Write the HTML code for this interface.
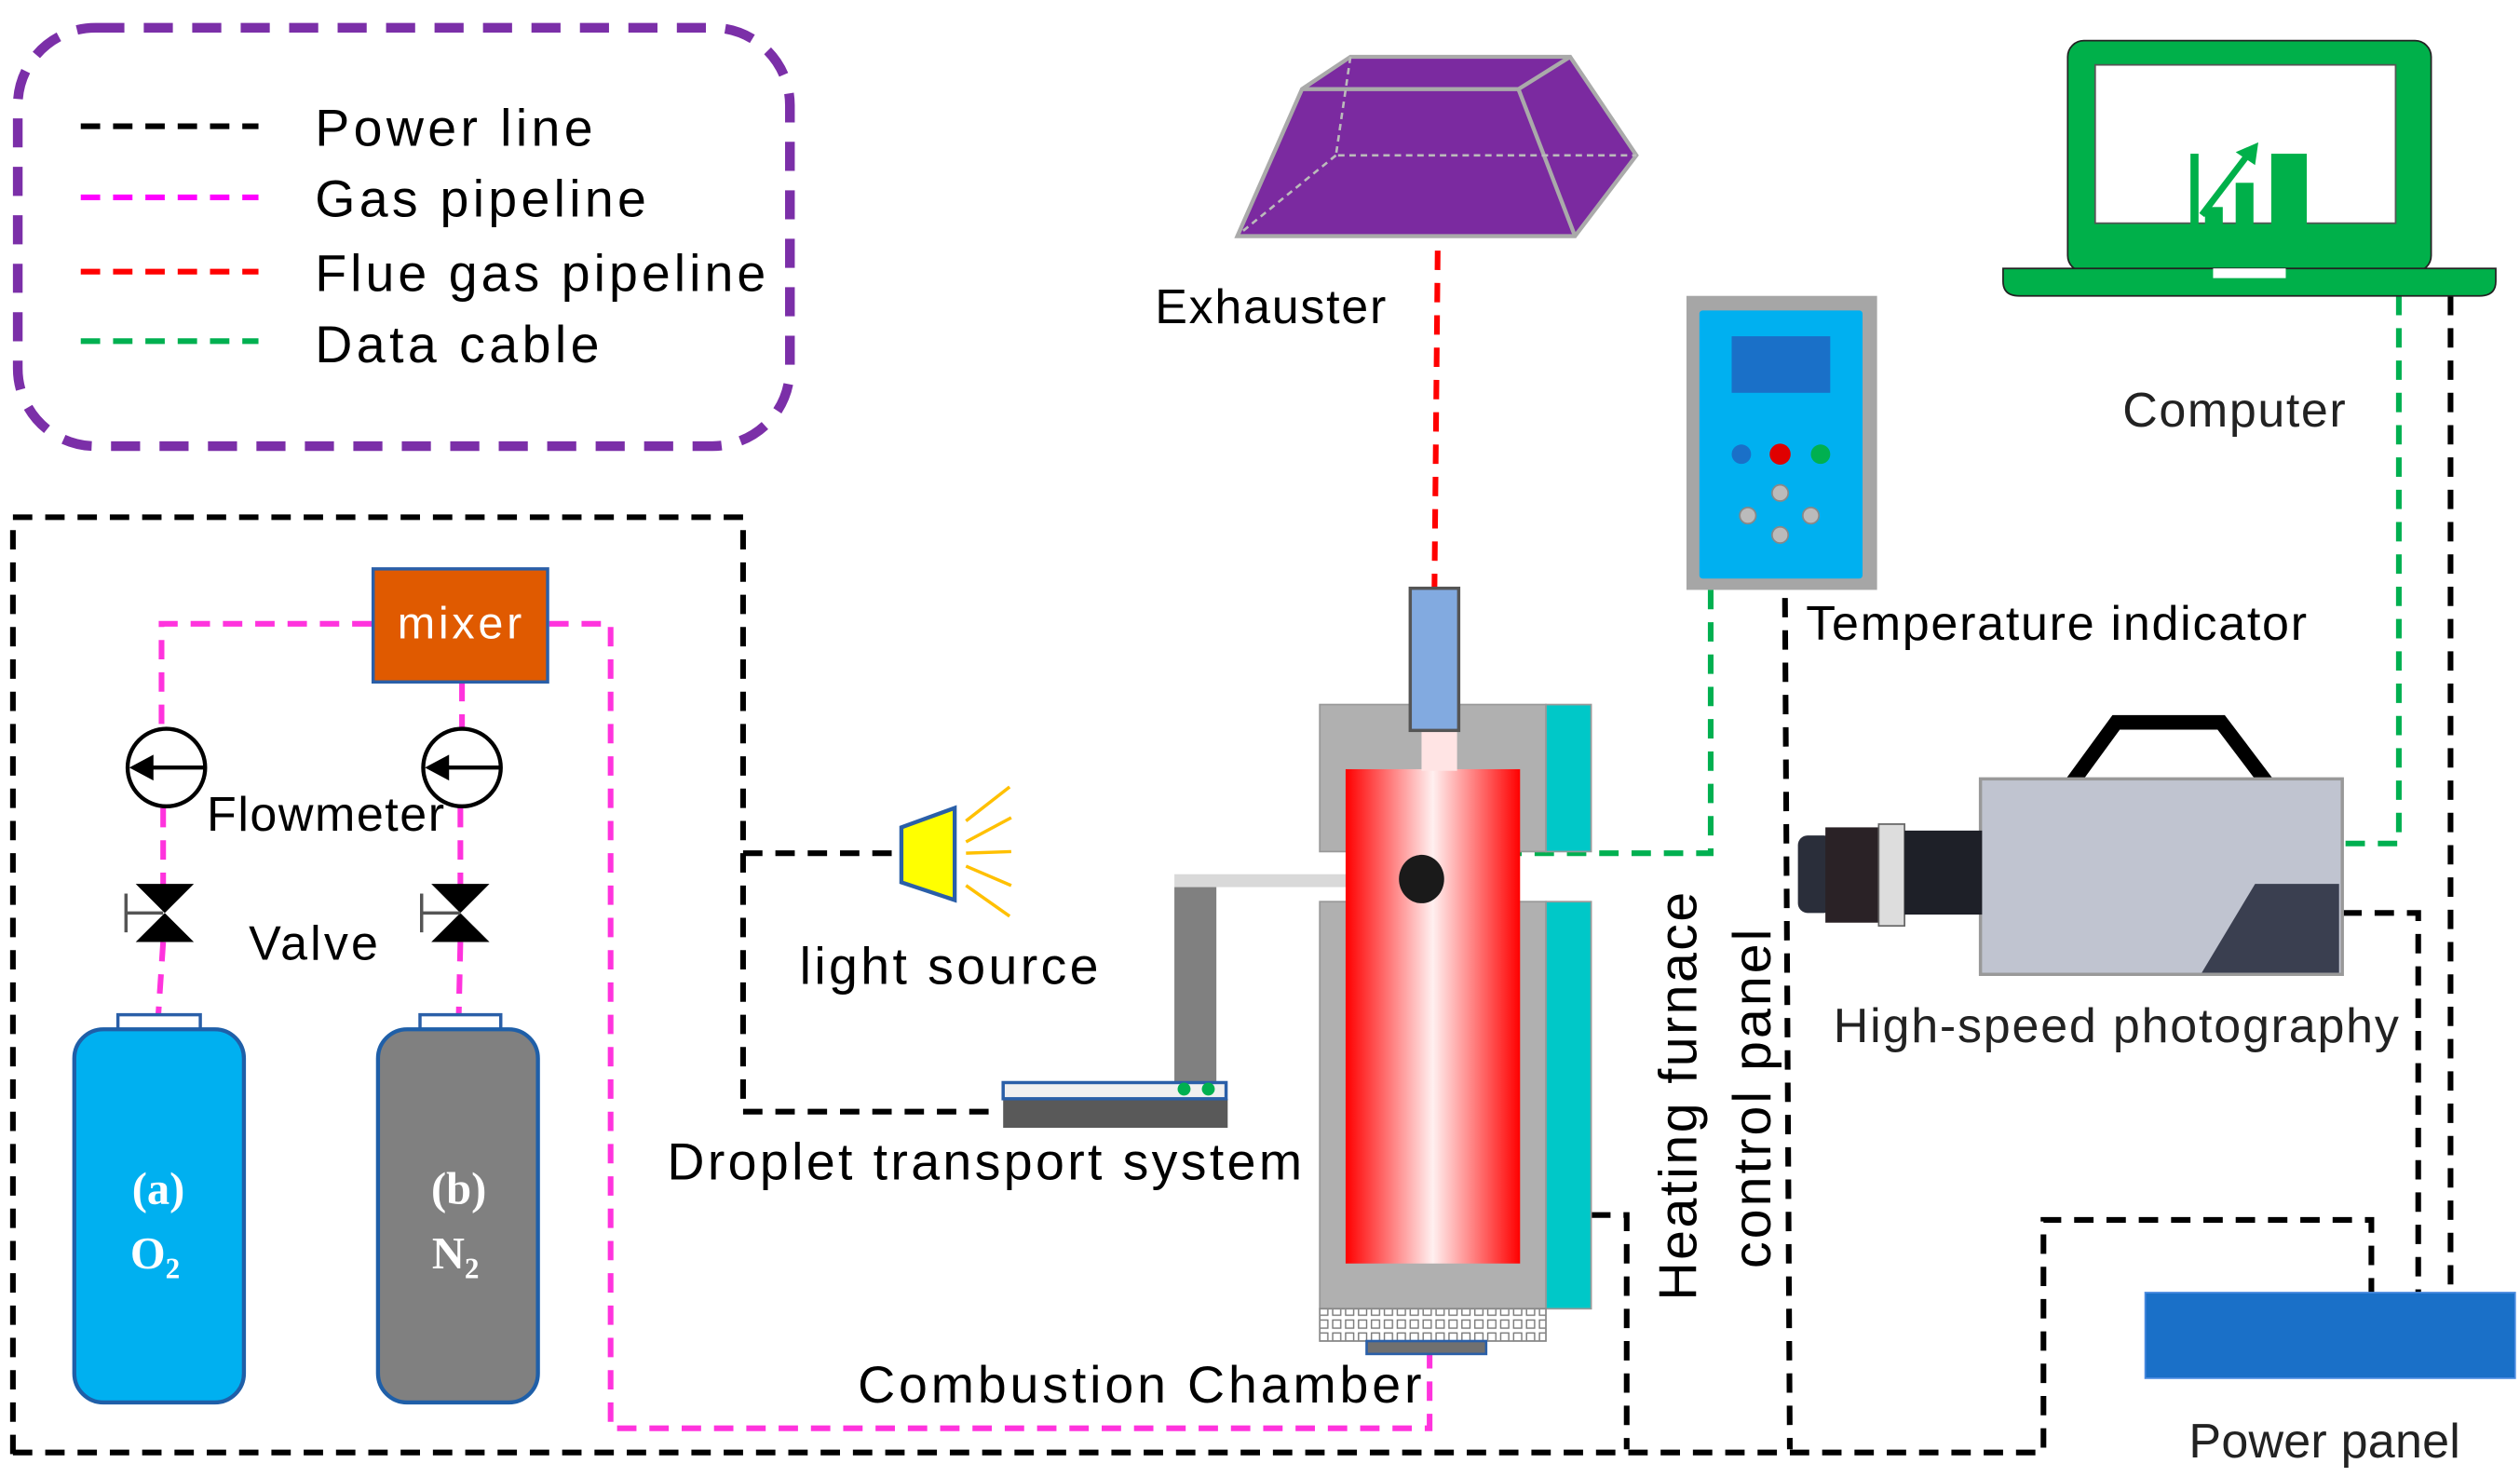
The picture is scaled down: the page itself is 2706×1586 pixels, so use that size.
<!DOCTYPE html>
<html><head><meta charset="utf-8"><style>
html,body{margin:0;padding:0;background:#fff;}
svg{display:block;}
text{font-family:"Liberation Sans",sans-serif;}
</style></head><body>
<svg width="2706" height="1586" viewBox="0 0 1560 914" xmlns="http://www.w3.org/2000/svg">
<defs>
<linearGradient id="rg" x1="0" x2="1" y1="0" y2="0">
<stop offset="0" stop-color="#ff0000"/><stop offset="0.5" stop-color="#fff0f0"/><stop offset="1" stop-color="#ff0000"/>
</linearGradient>
<pattern id="mesh" width="8" height="8" patternUnits="userSpaceOnUse">
<rect width="8" height="8" fill="#fff"/><rect x="1" y="1" width="5" height="5" fill="none" stroke="#777" stroke-width="0.8"/>
</pattern>
</defs>
<rect width="1560" height="914" fill="#fff"/>

<!-- legend -->
<rect x="11" y="17" width="478" height="259" rx="48" fill="none" stroke="#7b2fa8" stroke-width="6" stroke-dasharray="18,12"/>
<g stroke-width="3.5" stroke-dasharray="12,8">
<line x1="50" y1="78" x2="160" y2="78" stroke="#000"/>
<line x1="50" y1="122" x2="160" y2="122" stroke="#ff00ff"/>
<line x1="50" y1="168" x2="160" y2="168" stroke="#ff0000"/>
<line x1="50" y1="211" x2="160" y2="211" stroke="#00b050"/>
</g>
<g font-size="32" fill="#000">
<text x="195" y="90" textLength="172">Power line</text>
<text x="195" y="134" textLength="205">Gas pipeline</text>
<text x="195" y="180" textLength="279">Flue gas pipeline</text>
<text x="195" y="224" textLength="176">Data cable</text>
</g>

<!-- power lines -->
<g fill="none" stroke="#000" stroke-width="3.5" stroke-dasharray="12,8">
<polyline points="8,900 8,320 460,320 460,688 620,688"/>
<line x1="460" y1="528" x2="557" y2="528"/>
<polyline points="8,899 1265,899 1265,755 1468,755 1468,800"/>
<polyline points="985,752 1007,752 1007,897"/>
<line x1="1105" y1="370" x2="1108" y2="897"/>
<line x1="1517" y1="183" x2="1517" y2="800"/>
<polyline points="1450,565 1497,565 1497,800"/>
</g>
<!-- gas pipelines -->
<g fill="none" stroke="#ff33dd" stroke-width="3.5" stroke-dasharray="12,8">
<polyline points="230,386 100,386 100,452"/>
<line x1="286" y1="422" x2="286" y2="450"/>
<polyline points="340,386 378,386 378,884 885,884 885,838"/>
<line x1="101" y1="500" x2="101" y2="548"/>
<line x1="285" y1="500" x2="285" y2="548"/>
<line x1="101" y1="583" x2="98" y2="628"/>
<line x1="285" y1="583" x2="284" y2="628"/>
</g>
<!-- flue -->
<line x1="890" y1="155" x2="888" y2="364" stroke="#ff0000" stroke-width="3.5" stroke-dasharray="12,8"/>
<!-- data -->
<g fill="none" stroke="#00b050" stroke-width="3.5" stroke-dasharray="12,8">
<polyline points="1059,365 1059,528 900,528"/>
<polyline points="1485,183 1485,522 1450,522"/>
</g>

<!-- mixer -->
<rect x="231" y="352" width="108" height="70" fill="#e05a00" stroke="#2a5fa8" stroke-width="2"/>
<text x="246" y="395" font-size="28" fill="#fff" textLength="77">mixer</text>

<!-- flowmeters -->
<g fill="#fff" stroke="#000" stroke-width="2.5">
<circle cx="103" cy="475" r="24"/><circle cx="286" cy="475" r="24"/>
</g>
<g stroke="#000" stroke-width="2.5"><line x1="85" y1="475" x2="127" y2="475"/><line x1="268" y1="475" x2="310" y2="475"/></g>
<polygon points="80,475 95,467 95,483" fill="#000"/><polygon points="263,475 278,467 278,483" fill="#000"/>
<text x="128" y="514" font-size="30" textLength="147">Flowmeter</text>

<!-- valves -->
<g fill="#000">
<polygon points="84,547 120,547 102,565 120,583 84,583 102,565"/>
<polygon points="267,547 303,547 285,565 303,583 267,583 285,565"/>
</g>
<g stroke="#555" stroke-width="2">
<line x1="78" y1="553" x2="78" y2="577"/><line x1="78" y1="565" x2="101" y2="565"/>
<line x1="261" y1="553" x2="261" y2="577"/><line x1="261" y1="565" x2="285" y2="565"/>
</g>
<text x="154" y="594" font-size="30" textLength="80">Valve</text>

<!-- cylinders -->
<rect x="73" y="628" width="51" height="10" fill="#fff" stroke="#2a5fa8" stroke-width="2"/>
<rect x="46" y="637" width="105" height="231" rx="18" fill="#00b0f0" stroke="#1f5fa8" stroke-width="2.5"/>
<rect x="260" y="628" width="50" height="10" fill="#fff" stroke="#2a5fa8" stroke-width="2"/>
<rect x="234" y="637" width="99" height="231" rx="18" fill="#808080" stroke="#1f5fa8" stroke-width="2.5"/>
<g style="font-family:'Liberation Serif',serif;font-weight:bold" fill="#fff" font-size="28" text-anchor="middle">
<text style="font-family:'Liberation Serif',serif" x="98" y="745">(a)</text><text style="font-family:'Liberation Serif',serif" x="96" y="785">O<tspan font-size="18" dy="6">2</tspan></text>
<text style="font-family:'Liberation Serif',serif" x="284" y="745">(b)</text><text style="font-family:'Liberation Serif',serif" x="282" y="785">N<tspan font-size="18" dy="6">2</tspan></text>
</g>

<!-- light source -->
<polygon points="558,512 591,500 591,557 558,546" fill="#ffff00" stroke="#2a5fa8" stroke-width="2.5"/>
<g stroke="#ffc000" stroke-width="2">
<line x1="598" y1="508" x2="625" y2="487"/><line x1="598" y1="521" x2="626" y2="506"/>
<line x1="598" y1="528" x2="626" y2="527"/><line x1="598" y1="536" x2="626" y2="548"/>
<line x1="598" y1="548" x2="625" y2="567"/>
</g>
<text x="495" y="609" font-size="32" textLength="185">light source</text>

<!-- droplet transport -->
<rect x="727" y="541" width="145" height="8" fill="#d9d9d9"/>
<rect x="727" y="549" width="26" height="122" fill="#808080"/>
<rect x="621" y="680" width="139" height="18" fill="#595959"/>
<rect x="621" y="670" width="138" height="10" fill="#f0f0f0" stroke="#2a5fa8" stroke-width="2"/>
<circle cx="733" cy="674" r="4" fill="#00b050"/><circle cx="748" cy="674" r="4" fill="#00b050"/>
<text x="413" y="730" font-size="32" textLength="393">Droplet transport system</text>

<!-- furnace -->
<rect x="817" y="436" width="140" height="91" fill="#b0b0b0" stroke="#999" stroke-width="1"/>
<rect x="817" y="558" width="140" height="252" fill="#b0b0b0" stroke="#999" stroke-width="1"/>
<rect x="957" y="436" width="28" height="91" fill="#00c8c8" stroke="#999" stroke-width="1"/>
<rect x="957" y="558" width="28" height="252" fill="#00c8c8" stroke="#999" stroke-width="1"/>
<rect x="833" y="476" width="108" height="306" fill="url(#rg)"/>
<rect x="880" y="450" width="22" height="27" fill="#ffe4e4"/>
<rect x="873" y="364" width="30" height="88" fill="#82aae0" stroke="#555" stroke-width="2"/>
<rect x="817" y="810" width="140" height="20" fill="url(#mesh)" stroke="#888" stroke-width="1"/>
<rect x="846" y="830" width="74" height="8" fill="#707070" stroke="#2a5fa8" stroke-width="1.5"/>
<ellipse cx="880" cy="544" rx="14" ry="15" fill="#1a1a1a"/>
<text x="531" y="868" font-size="32" textLength="349">Combustion Chamber</text>
<text transform="translate(1050,805) rotate(-90)" font-size="33" textLength="253">Heating furnace</text>
<text transform="translate(1096,785) rotate(-90)" font-size="33" textLength="210">control panel</text>

<!-- exhauster -->
<polygon points="766,146 806,55 836,35 972,35 1013,96 975,146" fill="#7b2aa0" stroke="#aaa" stroke-width="2.5"/>
<g stroke="#aaa" stroke-width="2.5" fill="none"><polyline points="806,55 940,55 972,35"/><line x1="940" y1="55" x2="975" y2="146"/></g>
<g stroke="#bbb" stroke-width="1.5" fill="none" stroke-dasharray="4,3"><polyline points="836,35 827,96 1013,96"/><line x1="827" y1="96" x2="768" y2="144"/></g>
<text x="715" y="200" font-size="30" textLength="143">Exhauster</text>

<!-- temperature indicator -->
<rect x="1044" y="183" width="118" height="182" fill="#a6a6a6"/>
<rect x="1052" y="192" width="101" height="166" rx="2" fill="#00b0f0"/>
<rect x="1072" y="208" width="61" height="35" fill="#1a70c8"/>
<circle cx="1078" cy="281" r="6" fill="#1a70c8"/><circle cx="1102" cy="281" r="6.5" fill="#e00000"/><circle cx="1127" cy="281" r="6" fill="#00b050"/>
<g fill="#bbb" stroke="#888" stroke-width="1"><circle cx="1102" cy="305" r="5"/><circle cx="1082" cy="319" r="5"/><circle cx="1121" cy="319" r="5"/><circle cx="1102" cy="331" r="5"/></g>
<text x="1118" y="396" font-size="30" textLength="310">Temperature indicator</text>

<!-- computer -->
<rect x="1280" y="25" width="225" height="143" rx="10" fill="#00b04a" stroke="#222" stroke-width="1"/>
<rect x="1297" y="40" width="186" height="98" fill="#fff" stroke="#555" stroke-width="1"/>
<path d="M1240,166 H1545 V174 Q1545,183 1535,183 H1250 Q1240,183 1240,174 Z" fill="#00b04a" stroke="#222" stroke-width="1"/>
<rect x="1370" y="166" width="45" height="6" fill="#fff"/>
<g fill="#00b04a">
<rect x="1356" y="95" width="5" height="62"/><rect x="1357" y="152" width="71" height="6"/>
<rect x="1365" y="128" width="11" height="26"/><rect x="1384" y="113" width="11" height="41"/><rect x="1406" y="95" width="22" height="59"/>
</g>
<line x1="1363" y1="133" x2="1392" y2="95" stroke="#00b04a" stroke-width="4"/>
<polygon points="1398,88 1384,94 1396,102" fill="#00b04a"/>
<text x="1314" y="264" font-size="30" fill="#222" textLength="138">Computer</text>

<!-- camera -->
<polyline points="1283,484 1310,447 1375,447 1403,484" fill="none" stroke="#000" stroke-width="9"/>
<rect x="1226" y="482" width="224" height="121" fill="#c0c4d0" stroke="#999" stroke-width="2"/>
<polygon points="1363,602 1396,547 1448,547 1448,602" fill="#3a3f50"/>
<rect x="1113" y="517" width="22" height="48" rx="6" fill="#2a2e3a"/>
<rect x="1130" y="512" width="35" height="59" fill="#2a2226"/>
<rect x="1163" y="510" width="16" height="63" fill="#ddd" stroke="#666" stroke-width="1"/>
<rect x="1179" y="514" width="48" height="52" fill="#1e2028"/>
<text x="1135" y="645" font-size="30" fill="#222" textLength="350">High-speed photography</text>

<!-- power panel -->
<rect x="1328" y="800" width="229" height="53" fill="#1a70c8" stroke="#4a8ae0" stroke-width="1"/>
<text x="1355" y="902" font-size="30" fill="#222" textLength="168">Power panel</text>
</svg>
</body></html>
